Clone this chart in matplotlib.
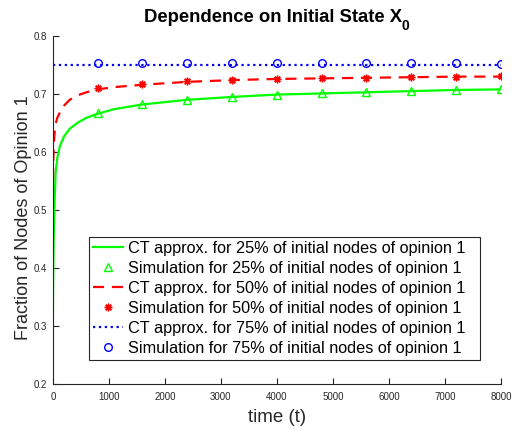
import matplotlib
matplotlib.use("Agg")
import matplotlib.pyplot as plt

plt.rcParams['font.family'] = ['Liberation Sans', 'DejaVu Sans']

# CT approximation curves
t_ct = [0, 5, 15, 30, 50, 80, 125, 200, 300, 450, 600, 800, 1100, 1600, 2400, 3200, 4000, 4800, 5600, 6400, 7200, 8000]
ct25 = [0.30, 0.38, 0.45, 0.51, 0.565, 0.59, 0.610, 0.627, 0.640, 0.651, 0.659, 0.666, 0.674, 0.682, 0.690, 0.695, 0.699, 0.701, 0.703, 0.705, 0.707, 0.708]
ct50 = [0.52, 0.57, 0.61, 0.632, 0.648, 0.659, 0.668, 0.680, 0.690, 0.698, 0.703, 0.708, 0.712, 0.716, 0.721, 0.724, 0.726, 0.727, 0.728, 0.729, 0.730, 0.730]
ct75 = [0.75] * len(t_ct)

# Simulation points
t_sim = [800, 1600, 2400, 3200, 4000, 4800, 5600, 6400, 7200, 8000]
sim25 = [0.667, 0.682, 0.690, 0.695, 0.699, 0.701, 0.704, 0.705, 0.707, 0.709]
sim50 = [0.710, 0.717, 0.722, 0.725, 0.726, 0.727, 0.728, 0.730, 0.730, 0.731]
sim75 = [0.754, 0.754, 0.754, 0.754, 0.754, 0.754, 0.754, 0.754, 0.754, 0.751]

labels = [
    "CT approx. for 25% of initial nodes of opinion 1",
    "Simulation for 25% of initial nodes of opinion 1",
    "CT approx. for 50% of initial nodes of opinion 1",
    "Simulation for 50% of initial nodes of opinion 1",
    "CT approx. for 75% of initial nodes of opinion 1",
    "Simulation for 75% of initial nodes of opinion 1",
]

fig = plt.figure(figsize=(5.18, 4.29), dpi=100)
ax = fig.add_axes([0.102, 0.105, 0.865, 0.811])

ax.plot(t_ct, ct25, '-', color='#00ff00', lw=1.6, label=labels[0])
ax.plot(t_sim, sim25, '^', color='#00ff00', mfc='none', ms=6, mew=1.0, ls='none', label=labels[1])
ax.plot(t_ct, ct50, '--', color='#ff0000', lw=1.6, dashes=(5, 3.5), label=labels[2])
ax.plot(t_sim, sim50, marker=(8, 2, 0), color='#ff0000', ms=5.5, mew=1.0, ls='none', label=labels[3])
ax.plot(t_ct, ct75, ':', color='#0000ff', lw=1.6, label=labels[4])
ax.plot(t_sim, sim75, 'o', color='#0000ff', mfc='none', ms=5.5, mew=1.0, ls='none', label=labels[5])

ax.set_xlim(0, 8000)
ax.set_ylim(0.2, 0.8)
ax.set_xticks(range(0, 8001, 1000))
ax.set_yticks([0.2, 0.3, 0.4, 0.5, 0.6, 0.7, 0.8])
ax.set_yticklabels(['0.2', '0.3', '0.4', '0.5', '0.6', '0.7', '0.8'])

for s in ['top', 'right']:
    ax.spines[s].set_visible(False)
for s in ['left', 'bottom']:
    ax.spines[s].set_color('#262626')
    ax.spines[s].set_linewidth(0.8)
ax.tick_params(direction='in', length=4, width=0.8, colors='#262626', labelsize=7, pad=4)
ax.tick_params(axis='x', pad=6)

ax.set_xlabel('time (t)', fontsize=13.5, color='#262626')
ax.xaxis.set_label_coords(0.5, -0.072)
ax.set_ylabel('Fraction of Nodes of Opinion 1', fontsize=13, color='#262626')
ax.yaxis.set_label_coords(-0.046, 0.477)

# Title with large subscript
title = fig.text(0.527, 1 - 17 / 429, 'Dependence on Initial State X', fontsize=13.3,
                 fontweight='bold', ha='center', va='center')
fig.canvas.draw()
bb = title.get_window_extent()
fig.text((bb.x1 - 1) / fig.bbox.width, (bb.y0 - 1) / fig.bbox.height, '0', fontsize=10,
         fontweight='bold', ha='left', va='center')

leg = ax.legend(loc='lower left', bbox_to_anchor=(0.080, 0.069, (480 - 89) / 448, 0.3),
                mode='expand', fontsize=11.7,
                frameon=True, fancybox=False, edgecolor='#262626', framealpha=1,
                handlelength=1.85, handletextpad=0.3, labelspacing=0.31,
                borderpad=0.25, borderaxespad=0, numpoints=1)
leg.get_frame().set_linewidth(0.8)

fig.savefig('out.png', dpi=100)
